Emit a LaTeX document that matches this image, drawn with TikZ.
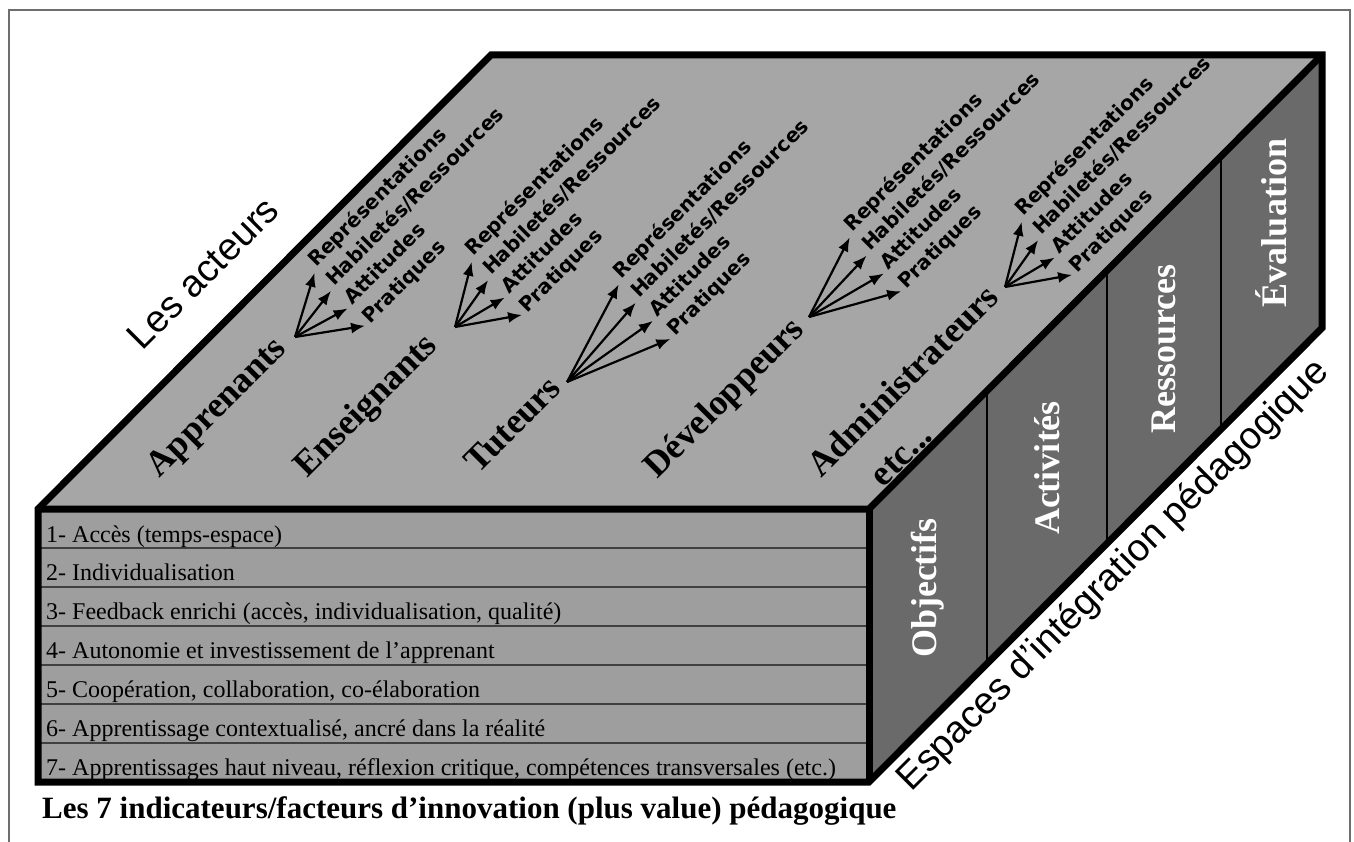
\documentclass[tikz,border=0pt]{standalone}
\usepackage{fontspec}
\setmainfont{Liberation Serif}
\newfontfamily\arialf{Liberation Sans}
\newfontfamily\verdf{DejaVu Sans}
\usetikzlibrary{arrows.meta,calc}
\definecolor{topc}{RGB}{166,166,166}
\definecolor{frontc}{RGB}{158,158,158}
\definecolor{rightc}{RGB}{106,106,106}
\definecolor{framec}{RGB}{110,110,110}
\begin{document}
\begin{tikzpicture}[x=1pt,y=-1pt,
  edge/.style={line width=7pt, line join=miter},
  rowline/.style={line width=1.6pt, black!75},
  colline/.style={line width=2.5pt, black},
  rowtxt/.style={anchor=base west, inner sep=0pt, font=\fontsize{24}{28}\selectfont},
  actor/.style={anchor=base east, rotate=45, inner sep=0pt, font=\bfseries\fontsize{36}{40}\selectfont},
  lbl/.style={anchor=base west, rotate=45, inner sep=0pt, font=\verdf\bfseries\fontsize{20}{24}\selectfont},
  colname/.style={rotate=90, inner sep=0pt, text=white, font=\bfseries\fontsize{36}{40}\selectfont},
  sidetxt/.style={anchor=base, rotate=45, inner sep=0pt, font=\arialf\fontsize{38}{44}\selectfont},
  fan/.style={line width=2.2pt, -{Latex[length=14pt,width=11pt]}, shorten >=5pt}]
\useasboundingbox (0,0) rectangle (1354,842);
\fill[white] (0,0) rectangle (1354,842);
% frame
\draw[framec, line width=2pt] (9,860) -- (9,10) -- (1350,10) -- (1350,860);
% faces
\fill[topc] (38,509) -- (491,55) -- (1322,55) -- (869,509) -- cycle;
\fill[frontc] (38,509) rectangle (869,782);
\fill[rightc] (869,509) -- (1322,55) -- (1322,328) -- (869,782) -- cycle;
% rows
\foreach \yy in {548,587,626,665,704,743} \draw[rowline] (38,\yy) -- (869,\yy);
% columns
\draw[colline] (987,391) -- (987,664);
\draw[colline] (1107,271) -- (1107,544);
\draw[colline] (1221,157) -- (1221,430);
% outline
\draw[edge] (38,509) -- (491,55) -- (1322,55) -- (1322,328) -- (869,782) -- (38,782) -- cycle;
\draw[edge] (38,509) -- (869,509) -- (1322,55);
\draw[edge] (869,509) -- (869,782);
% row texts
\node[rowtxt] (r1) at (46,542) {1- Accès (temps-espace)};
\node[rowtxt] (r2) at (46,580) {2- Individualisation};
\node[rowtxt] (r3) at (46,619) {3- Feedback enrichi (accès, individualisation, qualité)};
\node[rowtxt] (r4) at (46,658) {4- Autonomie et investissement de l’apprenant};
\node[rowtxt] (r5) at (46,697) {5- Coopération, collaboration, co-élaboration};
\node[rowtxt] (r6) at (46,736) {6- Apprentissage contextualisé, ancré dans la réalité};
\node[rowtxt] (r7) at (46,775) {7- Apprentissages haut niveau, réflexion critique, compétences transversales (etc.)};
\node[anchor=base west, inner sep=0pt, font=\bfseries\fontsize{31}{35}\selectfont] (cap) at (42,818)
  {Les 7 indicateurs/facteurs d’innovation (plus value) pédagogique};
% side texts
\node[sidetxt] (acteurs) at (212,282) {Les acteurs};
\node[sidetxt] (espaces) at (1121,583) {Espaces d’intégration pédagogique};
% column names
\node[colname] (obj) at (928,588) {Objectifs};
\node[colname] (act) at (1047,468) {Activités};
\node[colname] (res) at (1164,349) {Ressources};
\node[colname] (eva) at (1271,223) {Évaluation};
% fan origins
\coordinate (oA) at (295,337);
\coordinate (oE) at (455,327);
\coordinate (oT) at (567,382);
\coordinate (oD) at (809,317);
\coordinate (oM) at (1005,287);
% actors
\node[actor] (app) at (288,350) {Apprenants};
\node[actor] (ens) at (439,347) {Enseignants};
\node[actor] (tut) at (563,390) {Tuteurs};
\node[actor] (dev) at (806,331) {Développeurs};
\node[actor] (adm) at (1001,299) {Administrateurs};
\node[rotate=45, inner sep=0pt, font=\bfseries\fontsize{36}{40}\selectfont] (etc) at (902,456) {etc...};
% labels
\foreach \p/\x/\y in {a/316/268, e/473/257, t/621/280, d/852/233, m/1023/217}{
  \node[lbl] (\p-rep) at (\x,\y) {Représentations};
  \node[lbl] (\p-hab) at ($(\x,\y)+(18,19)$) {Habiletés/Ressources};
  \node[lbl] (\p-att) at ($(\x,\y)+(36,38)$) {Attitudes};
  \node[lbl] (\p-pra) at ($(\x,\y)+(54,57)$) {Pratiques};
}
\foreach \p/\o in {a/oA, e/oE, t/oT, d/oD, m/oM}{
  \foreach \q in {rep,hab,att,pra}{
    \draw[fan] (\o) -- (\p-\q.base west);
  }
}
\end{tikzpicture}
\end{document}
